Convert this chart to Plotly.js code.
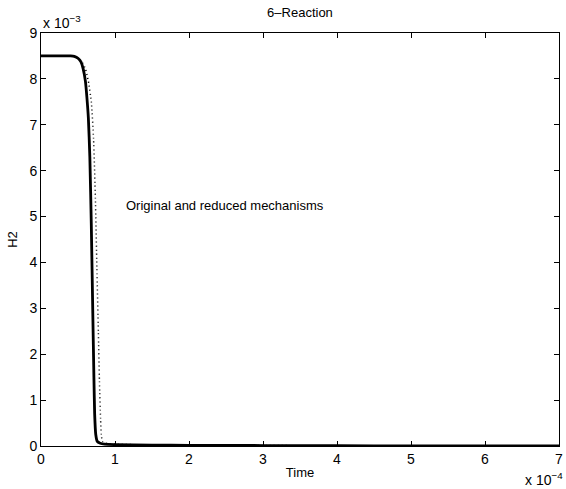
<!DOCTYPE html>
<html>
<head>
<meta charset="utf-8">
<script src="https://cdn.plot.ly/plotly-3.0.1.min.js"></script>
<style>html,body{margin:0;padding:0;background:#fff;}#chart{width:566px;height:489px;}</style>
</head>
<body>
<div id="chart"></div>
<script>
// Time in seconds, H2 mole fraction
var timeOriginal = [0, 0.2e-4, 0.40e-4, 0.45e-4, 0.50e-4, 0.54e-4, 0.57e-4, 0.60e-4, 0.62e-4, 0.64e-4, 0.66e-4, 0.68e-4, 0.70e-4, 0.715e-4, 0.725e-4, 0.74e-4, 0.76e-4, 0.80e-4, 0.86e-4, 1.0e-4, 1.5e-4, 2.0e-4, 3.0e-4, 4.0e-4, 5.0e-4, 6.0e-4, 7.0e-4];
var h2Original   = [8.5e-3, 8.5e-3, 8.5e-3, 8.49e-3, 8.45e-3, 8.37e-3, 8.22e-3, 7.95e-3, 7.6e-3, 7.15e-3, 6.3e-3, 4.8e-3, 2.9e-3, 1.5e-3, 0.7e-3, 0.25e-3, 0.1e-3, 0.06e-3, 0.04e-3, 0.03e-3, 0.02e-3, 0.015e-3, 0.01e-3, 0.005e-3, 0.003e-3, 0.002e-3, 0.002e-3];

var timeReduced = [0, 0.2e-4, 0.40e-4, 0.45e-4, 0.50e-4, 0.55e-4, 0.60e-4, 0.64e-4, 0.68e-4, 0.71e-4, 0.735e-4, 0.755e-4, 0.775e-4, 0.79e-4, 0.805e-4, 0.815e-4, 0.83e-4, 0.86e-4, 0.90e-4, 1.0e-4, 1.5e-4, 2.0e-4, 3.0e-4, 4.0e-4, 5.0e-4, 6.0e-4, 7.0e-4];
var h2Reduced   = [8.5e-3, 8.5e-3, 8.5e-3, 8.49e-3, 8.45e-3, 8.38e-3, 8.22e-3, 7.95e-3, 7.5e-3, 6.7e-3, 5.4e-3, 3.9e-3, 2.5e-3, 1.4e-3, 0.6e-3, 0.25e-3, 0.1e-3, 0.07e-3, 0.05e-3, 0.04e-3, 0.02e-3, 0.015e-3, 0.01e-3, 0.005e-3, 0.003e-3, 0.002e-3, 0.002e-3];

var xTickVals = [0, 1e-4, 2e-4, 3e-4, 4e-4, 5e-4, 6e-4, 7e-4];
var xTickText = ["0", "1", "2", "3", "4", "5", "6", "7"];
var yTickVals = [0, 1e-3, 2e-3, 3e-3, 4e-3, 5e-3, 6e-3, 7e-3, 8e-3, 9e-3];
var yTickText = ["0", "1", "2", "3", "4", "5", "6", "7", "8", "9"];

var font = {family: "Liberation Sans, Arial, sans-serif", size: 13, color: "#000"};
var tickFont = {family: "Liberation Sans, Arial, sans-serif", size: 14, color: "#000"};

var traces = [
  {x: timeReduced, y: h2Reduced, mode: "lines", line: {color: "#000", width: 1.5, dash: "1px,3px", shape: "spline", smoothing: 0.5}, hoverinfo: "skip"},
  {x: timeOriginal, y: h2Original, mode: "lines", line: {color: "#000", width: 2.8, shape: "spline", smoothing: 0.5}, hoverinfo: "skip"}
];

var layout = {
  width: 566, height: 489,
  margin: {l: 41, r: 7, t: 33, b: 43},
  paper_bgcolor: "#fff", plot_bgcolor: "#fff",
  showlegend: false,
  font: font,
  title: {text: "6\u2013Reaction", font: font, x: 0.53, xanchor: "center", y: 0.975, yanchor: "middle"},
  xaxis: {
    range: [0, 7e-4], tickvals: xTickVals, ticktext: xTickText,
    ticks: "inside", ticklen: 5, tickcolor: "#000", tickwidth: 1,
    showline: true, linecolor: "#000", linewidth: 1, mirror: "ticks",
    showgrid: false, zeroline: false, tickfont: tickFont,
    title: {text: "Time", font: font, standoff: 2}
  },
  yaxis: {
    range: [0, 9e-3], tickvals: yTickVals, ticktext: yTickText,
    ticks: "inside", ticklen: 5, tickcolor: "#000", tickwidth: 1,
    showline: true, linecolor: "#000", linewidth: 1, mirror: "ticks",
    showgrid: false, zeroline: false, tickfont: tickFont,
    title: {text: "H2", font: font, standoff: 8}
  },
  annotations: [
    {x: 1.12e-4, y: 5.25e-3, xref: "x", yref: "y", text: "Original and reduced mechanisms", showarrow: false, xanchor: "left", yanchor: "middle", font: font},
    {x: 0.0, y: 1.0, xref: "paper", yref: "paper", text: "x 10<sup>\u22123</sup>", showarrow: false, xanchor: "left", yanchor: "bottom", yshift: 0, font: tickFont},
    {x: 1.0, y: 0, xref: "paper", yref: "paper", text: "x 10<sup>\u22124</sup>", showarrow: false, xanchor: "right", yanchor: "top", xshift: 6, yshift: -22, font: tickFont}
  ]
};

Plotly.newPlot("chart", traces, layout, {displayModeBar: false, staticPlot: true});
</script>
</body>
</html>
